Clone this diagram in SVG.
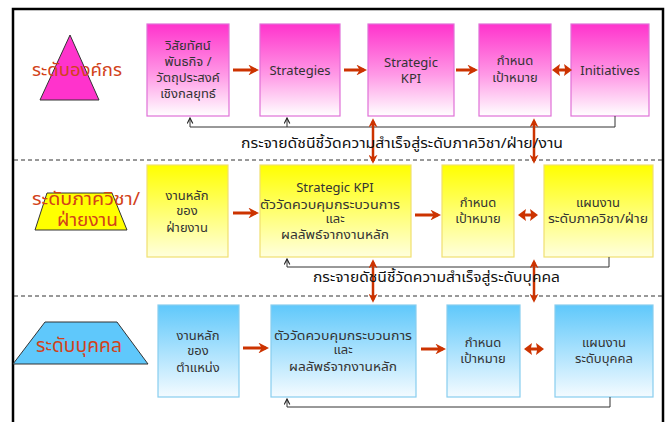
<svg xmlns="http://www.w3.org/2000/svg" width="672" height="422" viewBox="0 0 672 422">
<defs>
<linearGradient id="gPink" x1="0" y1="0" x2="0" y2="1"><stop offset="0" stop-color="#ff33cc"/><stop offset="0.55" stop-color="#ff99e6"/><stop offset="1" stop-color="#ffffff"/></linearGradient>
<linearGradient id="gYel" x1="0" y1="0" x2="0" y2="1"><stop offset="0" stop-color="#ffff00"/><stop offset="1" stop-color="#ffffdd"/></linearGradient>
<linearGradient id="gBlue" x1="0" y1="0" x2="0" y2="1"><stop offset="0" stop-color="#5fc8fb"/><stop offset="1" stop-color="#f4fbff"/></linearGradient>
<marker id="ra" viewBox="0 0 10 10" refX="7" refY="5" markerWidth="3.6" markerHeight="3.6" orient="auto-start-reverse"><path d="M0,0 L10,5 L0,10 L3,5 z" fill="#cc3300"/></marker>
<marker id="ka" viewBox="0 0 10 10" refX="9" refY="5" markerWidth="7" markerHeight="7" markerUnits="userSpaceOnUse" orient="auto"><path d="M1,1 L9,5 L1,9" fill="none" stroke="#222" stroke-width="1.6"/></marker>
<path id="dbl" d="M0,0 L8,-6 L7,-1.6 L13,-1.6 L12,-6 L20,0 L12,6 L13,1.6 L7,1.6 L8,6 Z" fill="#cc3300"/>
</defs>
<style>
text{font-family:"Noto Sans Thai","Noto Sans","DejaVu Sans",sans-serif;}
.bt{font-size:13px;fill:#333;text-anchor:middle;}
.lv{font-size:18px;fill:#d2421a;}
.ft{font-size:14px;fill:#111;}
.pk{fill:url(#gPink);stroke:#e070d8;stroke-width:1.2;}
.yl{fill:url(#gYel);stroke:#f0e070;stroke-width:1.2;}
.bl{fill:url(#gBlue);stroke:#88cdef;stroke-width:1.2;}
.r{stroke:#cc3300;stroke-width:3;fill:none;marker-end:url(#ra);}
.rv{stroke:#cc3300;stroke-width:2.5;fill:none;marker-end:url(#ra);marker-start:url(#ra);}
.k{stroke:#333;stroke-width:1;fill:none;}
.ka{stroke:#333;stroke-width:1;fill:none;marker-end:url(#ka);}
.dash{stroke:#333;stroke-width:1;stroke-dasharray:4 3;}
</style>
<rect x="0" y="0" width="672" height="422" fill="#fff"/>
<rect x="13" y="9" width="650" height="430" fill="none" stroke="#000" stroke-width="2.5"/>
<line class="dash" x1="14" y1="160" x2="662" y2="160"/>
<line class="dash" x1="14" y1="296" x2="662" y2="296"/>

<g id="level-org">
<polygon points="70,35 40,100 99,100" fill="#ff33cc" stroke="#333" stroke-width="1"/>
<text class="lv" x="32" y="76" textLength="90" lengthAdjust="spacingAndGlyphs">ระดับองค์กร</text>
</g>
<g id="level-dept">
<polygon points="47,193 112,193 127,230 35,230" fill="#ffff00" stroke="#333" stroke-width="1"/>
<text class="lv" x="32" y="205" textLength="108" lengthAdjust="spacingAndGlyphs">ระดับภาควิชา/</text>
<text class="lv" x="57" y="226" textLength="61" lengthAdjust="spacingAndGlyphs">ฝ่ายงาน</text>
</g>
<g id="level-person">
<polygon points="45,322 117,322 148,364 13,364" fill="#5fc8fb" stroke="#333" stroke-width="1"/>
<text class="lv" x="36" y="352" style="font-size:20px" textLength="86" lengthAdjust="spacingAndGlyphs">ระดับบุคคล</text>
</g>

<g id="n1"><rect class="pk" x="147" y="24" width="82" height="92"/>
<text class="bt" x="188" y="50">วิสัยทัศน์</text><text class="bt" x="188" y="66">พันธกิจ /</text><text class="bt" x="188" y="82">วัตถุประสงค์</text><text class="bt" x="188" y="98">เชิงกลยุทธ์</text></g>
<g id="n2"><rect class="pk" x="260" y="24" width="80" height="92"/>
<text class="bt" x="300" y="75">Strategies</text></g>
<g id="n3"><rect class="pk" x="368" y="24" width="86" height="92"/>
<text class="bt" x="411" y="67">Strategic</text><text class="bt" x="411" y="83">KPI</text></g>
<g id="n4"><rect class="pk" x="479" y="24" width="72" height="92"/>
<text class="bt" x="515" y="65">กำหนด</text><text class="bt" x="515" y="82">เป้าหมาย</text></g>
<g id="n5"><rect class="pk" x="571" y="24" width="78" height="92"/>
<text class="bt" x="610" y="75">Initiatives</text></g>

<g id="d1"><rect class="yl" x="147" y="165" width="81" height="92"/>
<text class="bt" x="187" y="200">งานหลัก</text><text class="bt" x="187" y="215">ของ</text><text class="bt" x="187" y="232">ฝ่ายงาน</text></g>
<g id="d2"><rect class="yl" x="260" y="165" width="151" height="92"/>
<text class="bt" x="335" y="192">Strategic KPI</text><text class="bt" x="330" y="209" textLength="140" lengthAdjust="spacingAndGlyphs">ตัววัดควบคุมกระบวนการ</text><text class="bt" x="335" y="223">และ</text><text class="bt" x="335" y="239" textLength="108" lengthAdjust="spacingAndGlyphs">ผลลัพธ์จากงานหลัก</text></g>
<g id="d3"><rect class="yl" x="442" y="165" width="72" height="92"/>
<text class="bt" x="478" y="207">กำหนด</text><text class="bt" x="478" y="223">เป้าหมาย</text></g>
<g id="d4"><rect class="yl" x="544" y="165" width="109" height="92"/>
<text class="bt" x="598" y="207">แผนงาน</text><text class="bt" x="598" y="223" textLength="100" lengthAdjust="spacingAndGlyphs">ระดับภาควิชา/ฝ่าย</text></g>

<g id="p1"><rect class="bl" x="158" y="305" width="81" height="92"/>
<text class="bt" x="198" y="340">งานหลัก</text><text class="bt" x="198" y="355">ของ</text><text class="bt" x="198" y="372">ตำแหน่ง</text></g>
<g id="p2"><rect class="bl" x="271" y="305" width="145" height="92"/>
<text class="bt" x="343" y="340" textLength="138" lengthAdjust="spacingAndGlyphs">ตัววัดควบคุมกระบวนการ</text><text class="bt" x="343" y="354">และ</text><text class="bt" x="343" y="371" textLength="108" lengthAdjust="spacingAndGlyphs">ผลลัพธ์จากงานหลัก</text></g>
<g id="p3"><rect class="bl" x="447" y="305" width="73" height="92"/>
<text class="bt" x="483" y="347">กำหนด</text><text class="bt" x="483" y="363">เป้าหมาย</text></g>
<g id="p4"><rect class="bl" x="555" y="305" width="98" height="92"/>
<text class="bt" x="604" y="347">แผนงาน</text><text class="bt" x="604" y="363">ระดับบุคคล</text></g>

<g id="connectors">
<line class="r" x1="233" y1="70" x2="256" y2="70"/>
<line class="r" x1="344" y1="70" x2="364" y2="70"/>
<line class="r" x1="456" y1="70" x2="475" y2="70"/>
<use href="#dbl" x="552" y="70"/>
<line class="r" x1="233" y1="213" x2="256" y2="213"/>
<line class="r" x1="415" y1="215" x2="438" y2="215"/>
<use href="#dbl" x="518" y="215"/>
<line class="r" x1="243" y1="348" x2="266" y2="348"/>
<line class="r" x1="421" y1="349" x2="443" y2="349"/>
<use href="#dbl" x="524" y="349"/>

<polyline class="k" points="615,116 615,127 190,127"/>
<line class="ka" x1="190" y1="127" x2="190" y2="118"/>
<line class="ka" x1="287" y1="127" x2="287" y2="118"/>
<polyline class="k" points="609,257 609,267 287,267"/>
<line class="ka" x1="287" y1="267" x2="287" y2="259"/>
<polyline class="k" points="610,397 610,407 287,407"/>
<line class="ka" x1="287" y1="407" x2="287" y2="399"/>

<line class="rv" x1="373" y1="121" x2="373" y2="161"/>
<line class="rv" x1="534" y1="121" x2="534" y2="161"/>
<line class="rv" x1="373" y1="262" x2="373" y2="300"/>
<line class="rv" x1="534" y1="262" x2="534" y2="300"/>
</g>
<text class="ft" x="241" y="148" textLength="322" lengthAdjust="spacingAndGlyphs">กระจายดัชนีชี้วัดความสำเร็จสู่ระดับภาควิชา/ฝ่าย/งาน</text>
<text class="ft" x="313" y="282" textLength="247" lengthAdjust="spacingAndGlyphs">กระจายดัชนีชี้วัดความสำเร็จสู่ระดับบุคคล</text>
</svg>
